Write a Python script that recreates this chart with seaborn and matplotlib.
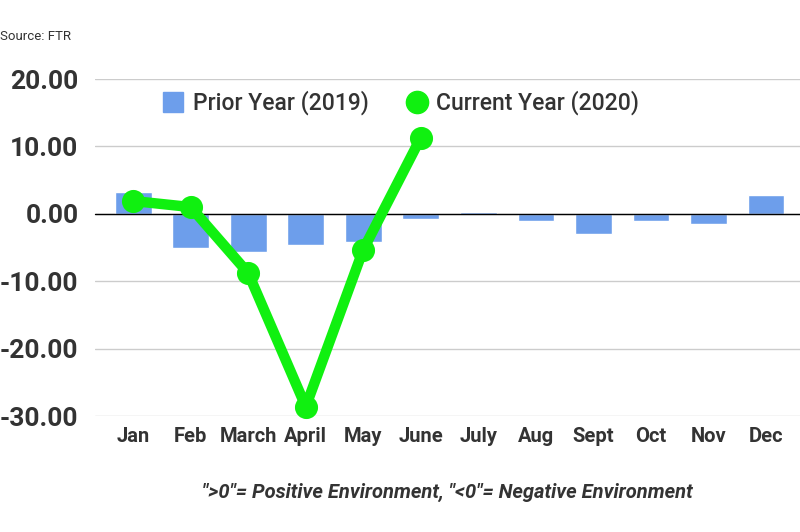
import numpy as np
import pandas as pd
import matplotlib
matplotlib.use("Agg")
import matplotlib.pyplot as plt
import seaborn as sns
from matplotlib.lines import Line2D

# ---- data ----
months = ["Jan", "Feb", "March", "April", "May", "June",
          "July", "Aug", "Sept", "Oct", "Nov", "Dec"]
prior_2019 = [3.3, -5.0, -5.6, -4.6, -4.2, -0.7, 0.2, -1.1, -3.0, -1.1, -1.5, 2.8]
current_2020 = [1.9, 1.0, -8.8, -28.6, -5.3, 11.3,
                np.nan, np.nan, np.nan, np.nan, np.nan, np.nan]
y_ticks = [20, 10, 0, -10, -20, -30]

BAR_COLOR = "#6d9eeb"
LINE_COLOR = "#10f010"
TEXT_COLOR = "#333333"

sns.set_theme(style="white")
plt.rcParams["font.family"] = ["Roboto", "DejaVu Sans"]

df = pd.DataFrame({"month": months, "prior": prior_2019, "current": current_2020})

fig = plt.figure(figsize=(8, 5.32), dpi=100)
ax = fig.add_axes([0.119, 0.218, 0.881, 0.6335])

ax.set_yticks(y_ticks)
ax.yaxis.grid(True, color="#cccccc", linewidth=1)
ax.set_axisbelow(True)

sns.barplot(data=df, x="month", y="prior", order=months, color=BAR_COLOR,
            width=0.64, saturation=1, ax=ax, zorder=2)
ax.axhline(0, color="black", linewidth=1, zorder=3)
sns.pointplot(data=df, x="month", y="current", order=months, color=LINE_COLOR,
              markers="o", markersize=11, linewidth=7.5, ax=ax, zorder=4)
for coll in ax.collections + ax.lines:
    coll.set_clip_on(False)

ax.set_ylim(-30, 20)
ax.set_xlim(-0.66, 11.59)
ax.set_xlabel("")
ax.set_ylabel("")
ax.set_yticklabels([f"{v:.2f}" for v in y_ticks])
ax.tick_params(axis="y", length=0, pad=12, labelsize=19, labelcolor=TEXT_COLOR)
ax.tick_params(axis="x", length=0, pad=8, labelsize=14.5, labelcolor=TEXT_COLOR)
for lab in ax.get_yticklabels() + ax.get_xticklabels():
    lab.set_fontweight("bold")
sns.despine(ax=ax, left=True, bottom=True)

handles = [
    Line2D([], [], marker="s", linestyle="none", markersize=14,
           markerfacecolor=BAR_COLOR, markeredgecolor=BAR_COLOR),
    Line2D([], [], marker="o", linestyle="none", markersize=16,
           markerfacecolor=LINE_COLOR, markeredgecolor=LINE_COLOR),
]
ax.legend(handles, ["Prior Year (2019)", "Current Year (2020)"], ncol=2,
          loc="center", bbox_to_anchor=(0.433, 0.929), frameon=False,
          prop={"size": 16.5, "weight": "medium"}, labelcolor=TEXT_COLOR,
          handletextpad=0.35, columnspacing=1.6, handlelength=1.0)

fig.text(0.0, 1 - 37 / 532, "Source: FTR", fontsize=9.5, color=TEXT_COLOR,
         va="center", ha="left")
fig.text(447 / 800, 1 - 492 / 532,
         '">0"= Positive Environment, "<0"= Negative Environment',
         fontsize=14.5, fontstyle="italic", fontweight="bold", color=TEXT_COLOR,
         ha="center", va="center")

fig.savefig("out.png", dpi=100)
